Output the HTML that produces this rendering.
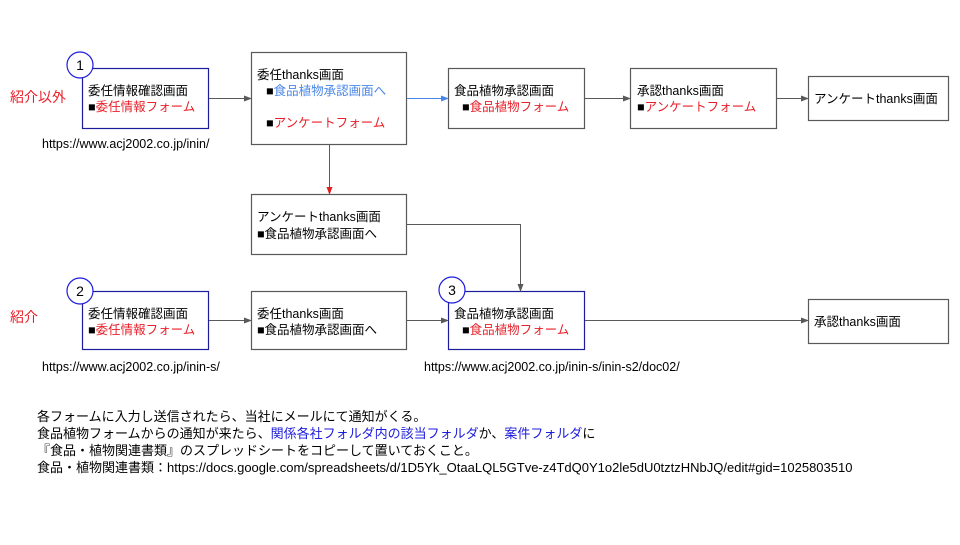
<!DOCTYPE html>
<html><head><meta charset="utf-8"><style>
body{margin:0;background:#fff}
svg text{font-family:"Liberation Sans","Noto Sans CJK JP",sans-serif;font-size:12.5px;fill:#000}
.r{fill:#e8202a}.b{fill:#4a86e8}.d{fill:#1c1cdc}
</style></head><body>
<svg width="960" height="540" viewBox="0 0 960 540" xmlns="http://www.w3.org/2000/svg">
<defs><marker id="a" markerWidth="8" markerHeight="6" refX="7" refY="3" orient="auto" markerUnits="userSpaceOnUse"><path d="M0,0L8,3L0,6z" fill="#595959"/></marker>
<marker id="ab" markerWidth="8" markerHeight="6" refX="7" refY="3" orient="auto" markerUnits="userSpaceOnUse"><path d="M0,0L8,3L0,6z" fill="#4a86e8"/></marker></defs>
<g fill="#fff" stroke-width="1.2">
<rect x="82.5" y="68.5" width="126" height="60" stroke="#1c1c9c"/>
<rect x="251.5" y="52.5" width="155" height="92" stroke="#595959"/>
<rect x="448.5" y="68.5" width="136" height="60" stroke="#595959"/>
<rect x="630.5" y="68.5" width="146" height="60" stroke="#595959"/>
<rect x="808.5" y="76.5" width="140" height="44" stroke="#595959"/>
<rect x="251.5" y="194.5" width="155" height="60" stroke="#595959"/>
<rect x="82.5" y="291.5" width="126" height="58" stroke="#1c1c9c"/>
<rect x="251.5" y="291.5" width="155" height="58" stroke="#595959"/>
<rect x="448.5" y="291.5" width="136" height="58" stroke="#1c1c9c"/>
<rect x="808.5" y="299.5" width="140" height="44" stroke="#595959"/>
<circle cx="80" cy="65" r="13" stroke="#1c1cdc"/>
<circle cx="80" cy="291" r="13" stroke="#1c1cdc"/>
<circle cx="452" cy="290" r="13" stroke="#1c1cdc"/>
</g>
<g stroke="#595959" stroke-width="1" fill="none">
<line x1="209" y1="98.5" x2="251" y2="98.5" marker-end="url(#a)"/>
<line x1="407" y1="98.5" x2="448" y2="98.5" stroke="#4a86e8" marker-end="url(#ab)"/>
<line x1="585" y1="98.5" x2="630" y2="98.5" marker-end="url(#a)"/>
<line x1="777" y1="98.5" x2="808" y2="98.5" marker-end="url(#a)"/>
<line x1="329.5" y1="145" x2="329.5" y2="188" stroke="#e02020"/>
<polyline points="407,224.5 520.5,224.5 520.5,291" marker-end="url(#a)"/>
<line x1="209" y1="320.5" x2="251" y2="320.5" marker-end="url(#a)"/>
<line x1="407" y1="320.5" x2="448" y2="320.5" marker-end="url(#a)"/>
<line x1="585" y1="320.5" x2="808" y2="320.5" marker-end="url(#a)"/>
</g>
<path d="M326.5,187L332.5,187L329.5,195z" fill="#e02020"/>
<text x="80" y="70" text-anchor="middle" style="font-size:14px">1</text>
<text x="80" y="296" text-anchor="middle" style="font-size:14px">2</text>
<text x="452" y="295" text-anchor="middle" style="font-size:14px">3</text>
<text x="10" y="102" class="r" style="font-size:14px">紹介以外</text>
<text x="10" y="322" class="r" style="font-size:14px">紹介</text>
<text x="88" y="95">委任情報確認画面</text>
<text x="88" y="111">■<tspan class="r">委任情報フォーム</tspan></text>
<text x="42" y="148">https://www.acj2002.co.jp/inin/</text>
<text x="257" y="79">委任thanks画面</text>
<text x="266" y="95">■<tspan class="b">食品植物承認画面へ</tspan></text>
<text x="266" y="127">■<tspan class="r">アンケートフォーム</tspan></text>
<text x="454" y="95">食品植物承認画面</text>
<text x="462" y="111">■<tspan class="r">食品植物フォーム</tspan></text>
<text x="637" y="95">承認thanks画面</text>
<text x="637" y="111">■<tspan class="r">アンケートフォーム</tspan></text>
<text x="814" y="103">アンケートthanks画面</text>
<text x="257" y="221">アンケートthanks画面</text>
<text x="257" y="238">■食品植物承認画面へ</text>
<text x="88" y="318">委任情報確認画面</text>
<text x="88" y="334">■<tspan class="r">委任情報フォーム</tspan></text>
<text x="42" y="371">https://www.acj2002.co.jp/inin-s/</text>
<text x="257" y="318">委任thanks画面</text>
<text x="257" y="334">■食品植物承認画面へ</text>
<text x="454" y="318">食品植物承認画面</text>
<text x="462" y="334">■<tspan class="r">食品植物フォーム</tspan></text>
<text x="424" y="371">https://www.acj2002.co.jp/inin-s/inin-s2/doc02/</text>
<text x="814" y="326">承認thanks画面</text>
<text x="37" y="421" style="font-size:13px">各フォームに入力し送信されたら、当社にメールにて通知がくる。</text>
<text x="37" y="438" style="font-size:13px">食品植物フォームからの通知が来たら、<tspan class="d">関係各社フォルダ内の該当フォルダ</tspan>か、<tspan class="d">案件フォルダ</tspan>に</text>
<text x="37" y="455" style="font-size:13px">『食品・植物関連書類』のスプレッドシートをコピーして置いておくこと。</text>
<text x="37" y="472" style="font-size:13px">食品・植物関連書類：https://docs.google.com/spreadsheets/d/1D5Yk_OtaaLQL5GTve-z4TdQ0Y1o2le5dU0tztzHNbJQ/edit#gid=1025803510</text>
</svg>
</body></html>
